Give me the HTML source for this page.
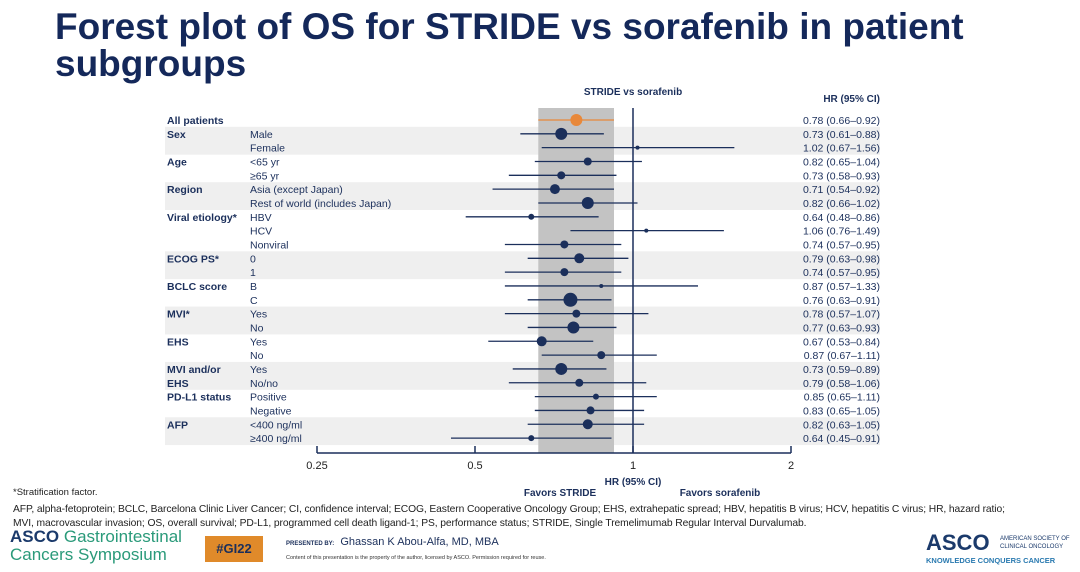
<!DOCTYPE html>
<html><head><meta charset="utf-8"><style>
body{margin:0;width:1080px;height:572px;background:#fff;font-family:"Liberation Sans",sans-serif;overflow:hidden;position:relative}
.t{position:absolute;white-space:nowrap}
</style></head><body>
<div class="t" style="left:55px;top:8px;font-size:37px;font-weight:bold;color:#14285a;line-height:37px">Forest plot of OS for STRIDE vs sorafenib in patient<br>subgroups</div>
<svg id="plot" width="1080" height="572" style="position:absolute;left:0;top:0" font-family="Liberation Sans, sans-serif"></svg>
<div class="t" style="left:13px;top:487px;font-size:9.5px;color:#222">*Stratification factor.</div>
<div class="t" style="left:13px;top:503px;font-size:10.3px;color:#222;line-height:14px;letter-spacing:-0.1px">AFP, alpha-fetoprotein; BCLC, Barcelona Clinic Liver Cancer; CI, confidence interval; ECOG, Eastern Cooperative Oncology Group; EHS, extrahepatic spread; HBV, hepatitis B virus; HCV, hepatitis C virus; HR, hazard ratio;<br>MVI, macrovascular invasion; OS, overall survival; PD-L1, programmed cell death ligand-1; PS, performance status; STRIDE, Single Tremelimumab Regular Interval Durvalumab.</div>
<div class="t" style="left:10px;top:528px;font-size:17px;color:#2a9a7a;line-height:18px"><b style="color:#1b3a6b">ASCO</b> Gastrointestinal<br>Cancers Symposium</div>
<div class="t" style="left:205px;top:536px;width:58px;height:26px;background:#e08a2a;color:#1b2f5b;font-weight:bold;font-size:13px;text-align:center;line-height:26px">#GI22</div>
<div class="t" style="left:286px;top:536px;font-size:11px;color:#1b2f5b"><span style="font-size:6px;font-weight:bold">PRESENTED BY:</span>&nbsp; Ghassan K Abou-Alfa, MD, MBA</div>
<div class="t" style="left:286px;top:555px;font-size:5.5px;color:#333">Content of this presentation is the property of the author, licensed by ASCO. Permission required for reuse.</div>
<div class="t" style="left:926px;top:530px;font-size:22px;font-weight:bold;color:#1b3a6b">ASCO</div>
<div class="t" style="left:1000px;top:535px;font-size:6px;color:#1b3a6b;line-height:8px">AMERICAN SOCIETY OF<br>CLINICAL ONCOLOGY</div>
<div class="t" style="left:926px;top:556px;font-size:7.5px;font-weight:bold;color:#2a7ab0">KNOWLEDGE CONQUERS CANCER</div>
<script>
const groups=["All patients","Sex","","Age","","Region","","Viral etiology*","","","ECOG PS*","","BCLC score","","MVI*","","EHS","","MVI and/or","EHS","PD-L1 status","","AFP",""];
const subgroups=["","Male","Female","<65 yr","≥65 yr","Asia (except Japan)","Rest of world (includes Japan)","HBV","HCV","Nonviral","0","1","B","C","Yes","No","Yes","No","Yes","No/no","Positive","Negative","<400 ng/ml","≥400 ng/ml"];
const hr=[0.78,0.73,1.02,0.82,0.73,0.71,0.82,0.64,1.06,0.74,0.79,0.74,0.87,0.76,0.78,0.77,0.67,0.87,0.73,0.79,0.85,0.83,0.82,0.64];
const lo=[0.66,0.61,0.67,0.65,0.58,0.54,0.66,0.48,0.76,0.57,0.63,0.57,0.57,0.63,0.57,0.63,0.53,0.67,0.59,0.58,0.65,0.65,0.63,0.45];
const hi=[0.92,0.88,1.56,1.04,0.93,0.92,1.02,0.86,1.49,0.95,0.98,0.95,1.33,0.91,1.07,0.93,0.84,1.11,0.89,1.06,1.11,1.05,1.05,0.91];
const dotR=[6,6,2,4,4,5,6,3,2,4,5,4,2,7,4,6,5,4,6,4,3,4,5,3];
const bands=[[1,2],[5,6],[10,11],[14,15],[18,19],[22,23]];
const ticks=[0.25,0.5,1,2];
const svg=document.getElementById('plot');const NS='http://www.w3.org/2000/svg';
const x=v=>633+158*Math.log2(v);
const y=i=>120+i*13.83;
function mk(t,a,txt){const e=document.createElementNS(NS,t);for(const k in a)e.setAttribute(k,a[k]);if(txt!=null)e.textContent=txt;svg.appendChild(e);return e;}
bands.forEach(b=>{const e=mk('rect',{x:165,y:y(b[0])-7,width:715,height:y(b[1])-y(b[0])+14,fill:'#efefef'});

});
let g=mk('rect',{x:x(lo[0]),y:108,width:x(hi[0])-x(lo[0]),height:345,fill:'#c3c3c3'});


let r=mk('line',{x1:x(1),x2:x(1),y1:108,y2:453,stroke:'#1b2f5b','stroke-width':1.5});


mk('line',{x1:x(0.25),x2:x(2),y1:453,y2:453,stroke:'#1b2f5b','stroke-width':1.5});
ticks.forEach(t=>{const l=mk('line',{x1:x(t),x2:x(t),y1:446,y2:453,stroke:'#1b2f5b','stroke-width':1.5});


const tx=mk('text',{x:x(t),y:469,'font-size':11,'text-anchor':'middle',fill:'#222'},String(t));

});
const ax=mk('text',{x:633,y:485,'font-size':10,'font-weight':'bold','text-anchor':'middle',fill:'#1b2f5b'},'HR (95% CI)');


const f1=mk('text',{x:560,y:496,'font-size':10,'font-weight':'bold','text-anchor':'middle',fill:'#1b2f5b'},'Favors STRIDE');


const f2=mk('text',{x:720,y:496,'font-size':10,'font-weight':'bold','text-anchor':'middle',fill:'#1b2f5b'},'Favors sorafenib');


const h1=mk('text',{x:633,y:95,'font-size':10,'font-weight':'bold','text-anchor':'middle',fill:'#1b2f5b'},'STRIDE vs sorafenib');


const h2=mk('text',{x:880,y:102,'font-size':10,'font-weight':'bold','text-anchor':'end',fill:'#1b2f5b'},'HR (95% CI)');


const f=v=>v.toFixed(2);
hr.forEach((v,i)=>{const yy=y(i);const c=i==0?'#e8883a':'#1b2f5b';
if(groups[i]){const t=mk('text',{x:167,y:yy+4,'font-size':10.5,'font-weight':'bold',fill:'#1b2f5b'},groups[i]);

}
if(subgroups[i]){const t=mk('text',{x:250,y:yy+4,'font-size':10.5,fill:'#1b2f5b'},subgroups[i]);

}
const l=mk('line',{x1:x(lo[i]),x2:x(hi[i]),y1:yy,y2:yy,stroke:c,'stroke-width':1.3});


const d=mk('circle',{cx:x(v),cy:yy,r:dotR[i],fill:c});


const t=mk('text',{x:880,y:yy+4,'font-size':10.5,'text-anchor':'end',fill:'#1b2f5b'},f(v)+' ('+f(lo[i])+'–'+f(hi[i])+')');

});
</script>
</body></html>
